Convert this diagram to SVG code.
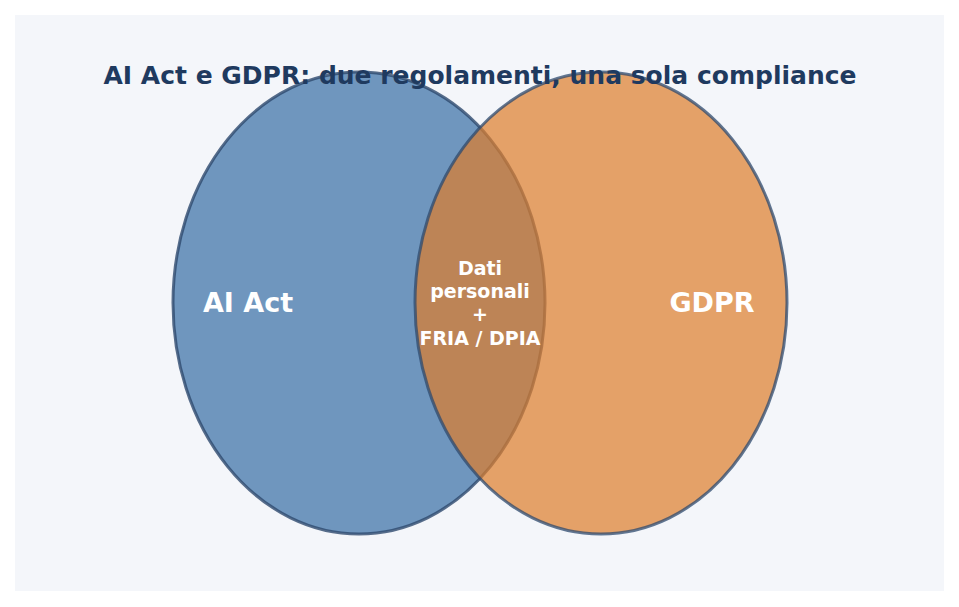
<svg xmlns="http://www.w3.org/2000/svg" width="959" height="607" viewBox="0 0 959 607">
<style>
text{font-family:"DejaVu Sans","Noto Sans",sans-serif;font-weight:bold;text-anchor:middle}
.t{fill:#1f3a5f;font-size:25px}
.l{fill:#fff;font-size:27px}
.c{fill:#fff;font-size:19px}
</style>
<rect width="959" height="607" fill="#fff"/>
<rect x="15" y="15" width="929" height="576" fill="#f4f6fa"/>
<g id="ai-act"><ellipse cx="359" cy="303" rx="186" ry="231" fill="#4375a9" fill-opacity="0.75" stroke="#2e4a6e" stroke-width="3" stroke-opacity="0.8"/></g>
<g id="gdpr"><ellipse cx="601" cy="303" rx="186" ry="231" fill="#dd7d2b" fill-opacity="0.71" stroke="#2e4a6e" stroke-width="3" stroke-opacity="0.75"/></g>
<text class="t" x="480" y="84">AI Act e GDPR: due regolamenti, una sola compliance</text>
<text class="l" x="248" y="312">AI Act</text>
<text class="l" x="712" y="312">GDPR</text>
<g id="overlap"><text class="c" x="480" y="275">Dati</text><text class="c" x="480" y="298">personali</text><text class="c" x="480" y="321">+</text><text class="c" x="480" y="345">FRIA / DPIA</text></g>
<g id="connectors"/>
</svg>
